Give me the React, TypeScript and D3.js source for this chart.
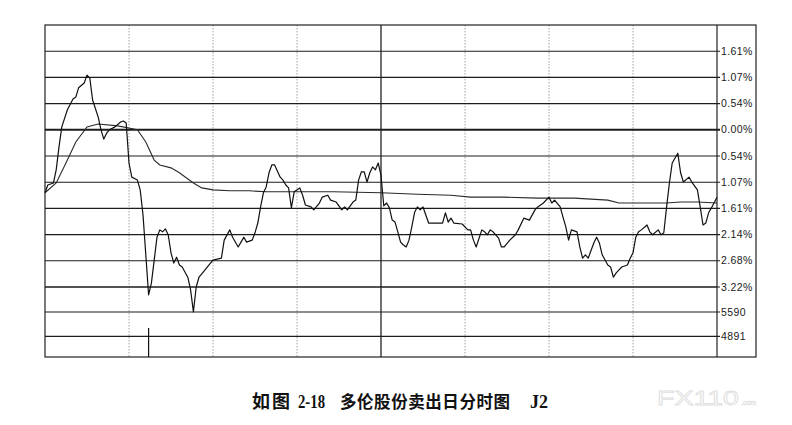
import React from "react";
import * as d3 from "d3";

// ---- data ----
const priceMinutes = [0,1,3,4,5,6,8,10,11,12,14,15,16,17,19,20,21,22,23,25,27,28,29,30,31,33,34,35,36,37,38,39,40,41,42,43,44,45,46,47,48,49,51,52,53,54,55,56,58,60,63,64,66,67,69,70,71,72,74,75,76,77,78,79,80,81,82,84,85,86,87,88,89,91,92,93,95,96,98,99,101,102,104,106,107,108,110,111,112,113,114,115,116,117,118,119,120,121,122,123,124,125,126,127,128,129,130,131,132,133,134,135,137,142,143,144,145,146,149,151,152,153,154,156,157,158,159,160,162,163,164,166,168,169,171,173,175,176,178,180,181,182,184,185,186,187,188,190,191,192,193,194,196,197,198,199,201,202,203,204,205,206,208,209,210,211,212,213,215,216,217,219,220,221,222,223,224,226,227,228,230,231,233,234,235,236,237,238,240];
const priceValues = [-1.29,-1.13,-1.09,-0.82,-0.35,0.06,0.41,0.63,0.67,0.86,0.96,1.12,1.06,0.61,0.26,0.00,-0.19,-0.07,0.00,0.06,0.16,0.18,0.14,-0.68,-0.97,-1.03,-1.23,-1.74,-2.56,-3.38,-3.14,-2.67,-2.20,-2.05,-2.09,-2.03,-2.15,-2.52,-2.73,-2.61,-2.77,-2.81,-3.02,-3.28,-3.73,-3.22,-3.02,-2.95,-2.81,-2.67,-2.63,-2.26,-2.05,-2.20,-2.40,-2.30,-2.20,-2.30,-2.26,-2.11,-1.91,-1.58,-1.29,-1.17,-0.88,-0.72,-0.72,-0.97,-1.03,-1.13,-1.19,-1.60,-1.27,-1.19,-1.34,-1.54,-1.58,-1.64,-1.50,-1.38,-1.34,-1.44,-1.48,-1.64,-1.58,-1.64,-1.48,-1.44,-1.03,-0.86,-0.86,-1.07,-0.88,-0.76,-0.82,-0.68,-0.93,-1.56,-1.50,-1.60,-1.85,-1.89,-2.09,-2.30,-2.36,-2.40,-2.26,-1.99,-1.69,-1.58,-1.64,-1.58,-1.91,-1.91,-1.70,-1.89,-1.81,-1.91,-1.93,-2.05,-2.05,-2.26,-2.40,-2.05,-2.09,-2.15,-2.05,-2.09,-2.22,-2.40,-2.40,-2.26,-2.15,-2.05,-1.81,-1.85,-1.64,-1.58,-1.50,-1.38,-1.50,-1.44,-1.58,-1.79,-1.99,-2.26,-2.05,-2.09,-2.40,-2.63,-2.56,-2.63,-2.32,-2.20,-2.32,-2.56,-2.77,-2.81,-3.02,-2.93,-2.87,-2.81,-2.77,-2.63,-2.52,-2.20,-2.09,-2.05,-1.95,-2.09,-2.15,-2.05,-2.15,-2.11,-1.58,-1.09,-0.68,-0.48,-0.88,-1.07,-0.97,-1.07,-1.23,-1.58,-1.95,-1.91,-1.70,-1.60,-1.38];

const avgMinutes = [0,4,8,11,15,19,26,33,36,39,41,45,48,53,56,60,66,73,79,91,103,120,133,145,152,164,176,189,201,205,213,222,227,233,240];
const avgValues = [-1.29,-1.09,-0.62,-0.25,0.06,0.12,0.08,0.00,-0.25,-0.62,-0.72,-0.78,-0.88,-1.09,-1.19,-1.23,-1.25,-1.25,-1.27,-1.27,-1.27,-1.29,-1.32,-1.34,-1.38,-1.38,-1.40,-1.40,-1.44,-1.50,-1.50,-1.50,-1.48,-1.48,-1.50];

const volumeMinutes = [37];
const volumeValues = [5130];

const pctTickSteps = [3, 2, 1, 0, -1, -2, -3, -4, -5, -6];
const pctTickLabels = ["1.61%", "1.07%", "0.54%", "0.00%", "0.54%", "1.07%", "1.61%", "2.14%", "2.68%", "3.22%"];
const volTickValues = [5590, 4891];
const volTickLabels = ["5590", "4891"];
const timeGridMinutes = [30, 60, 90, 120, 150, 180, 210];

const caption1 = "如图";
const caption2 = "2-18";
const caption3 = "多伦股份卖出日分时图";
const caption4 = "J2";

const STEP = 0.5367;

export default function App() {
  const left = 45, right = 717, top = 25, priceBottom = 287, bottom = 357, outerRight = 756;
  const x = d3.scaleLinear().domain([0, 240]).range([left, right]);
  const y = d3.scaleLinear().domain([-6 * STEP, 4 * STEP]).range([priceBottom, top]);
  const yv = d3.scaleLinear().domain([4300, 6310]).range([bottom, priceBottom]);

  const priceData = priceMinutes.map((m, i) => [m, priceValues[i]] as [number, number]);
  const avgData = avgMinutes.map((m, i) => [m, avgValues[i]] as [number, number]);
  const line = d3.line<[number, number]>().x(d => x(d[0])).y(d => y(d[1]));

  const gridStroke = "#1c1c1c";
  const labelFont = "'Liberation Sans', Arial, sans-serif";

  return (
    <svg width={792} height={425} style={{ position: "absolute", left: 0, top: 0, background: "#fff" }}>
      <rect x={0} y={0} width={792} height={425} fill="#fff" />
      {/* time grid */}
      {timeGridMinutes.map(m => (
        <line key={"v" + m} x1={x(m)} x2={x(m)} y1={top} y2={bottom}
          stroke={m === 120 ? "#111" : "#8a8a8a"} strokeWidth={m === 120 ? 1.2 : 0.8}
          strokeDasharray={m === 120 ? undefined : "1.5,1.5"} />
      ))}
      {/* price grid */}
      {pctTickSteps.map((s, i) => (
        <g key={"h" + i}>
          <line x1={left} x2={right + 3} y1={y(s * STEP)} y2={y(s * STEP)} stroke={gridStroke}
            strokeWidth={s === 0 ? 2 : 1.1} />
          <text x={right + 4} y={y(s * STEP)} dy="0.35em" fontSize={10.5} letterSpacing={0.4}
            fontFamily={labelFont} fill="#1a1a1a">{pctTickLabels[i]}</text>
        </g>
      ))}
      <line x1={left} x2={right} y1={priceBottom} y2={priceBottom} stroke={gridStroke} strokeWidth={1.1} />
      {/* volume grid */}
      {volTickValues.map((v, i) => (
        <g key={"vol" + i}>
          <line x1={left} x2={right + 3} y1={yv(v)} y2={yv(v)} stroke={gridStroke} strokeWidth={1.1} />
          <text x={right + 4} y={yv(v)} dy="0.35em" fontSize={10.5} letterSpacing={0.4}
            fontFamily={labelFont} fill="#1a1a1a">{volTickLabels[i]}</text>
        </g>
      ))}
      {/* volume bars */}
      {volumeMinutes.map((m, i) => (
        <line key={"vb" + i} x1={x(m)} x2={x(m)} y1={yv(volumeValues[i])} y2={bottom} stroke="#111" strokeWidth={1.2} />
      ))}
      {/* frame */}
      <rect x={left} y={top} width={outerRight - left} height={bottom - top} fill="none" stroke="#222" strokeWidth={1.2} />
      <line x1={right} x2={right} y1={top} y2={bottom} stroke="#222" strokeWidth={1.2} />
      {/* lines */}
      <path d={line(avgData) || ""} fill="none" stroke="#2a2a2a" strokeWidth={1.1} />
      <path d={line(priceData) || ""} fill="none" stroke="#111" strokeWidth={1.2} strokeLinejoin="round" />
      {/* caption */}
      <g fontWeight="bold" fill="#111">
        <text x={252} y={408} fontSize={18} fontFamily="'Noto Sans CJK SC', sans-serif" letterSpacing={2}>{caption1}</text>
        <text x={298} y={408} fontSize={19} fontFamily="'Liberation Serif', 'Times New Roman', serif" textLength={27} lengthAdjust="spacingAndGlyphs">{caption2}</text>
        <text x={340} y={408} fontSize={16.5} fontFamily="'Noto Sans CJK SC', sans-serif" textLength={170} lengthAdjust="spacing">{caption3}</text>
        <text x={530} y={408} fontSize={18} fontFamily="'Liberation Serif', 'Times New Roman', serif" textLength={18} lengthAdjust="spacingAndGlyphs">{caption4}</text>
      </g>
      {/* watermark */}
      <text x={657} y={405} fontFamily={labelFont} fontSize={21} fill="#fff" stroke="#dedede" strokeWidth={0.8}
        textLength={82} lengthAdjust="spacingAndGlyphs">FX110</text>
      <text x={741} y={405} fontFamily={labelFont} fontSize={7} fill="#fff" stroke="#dedede" strokeWidth={0.5}>.com</text>
    </svg>
  );
}
